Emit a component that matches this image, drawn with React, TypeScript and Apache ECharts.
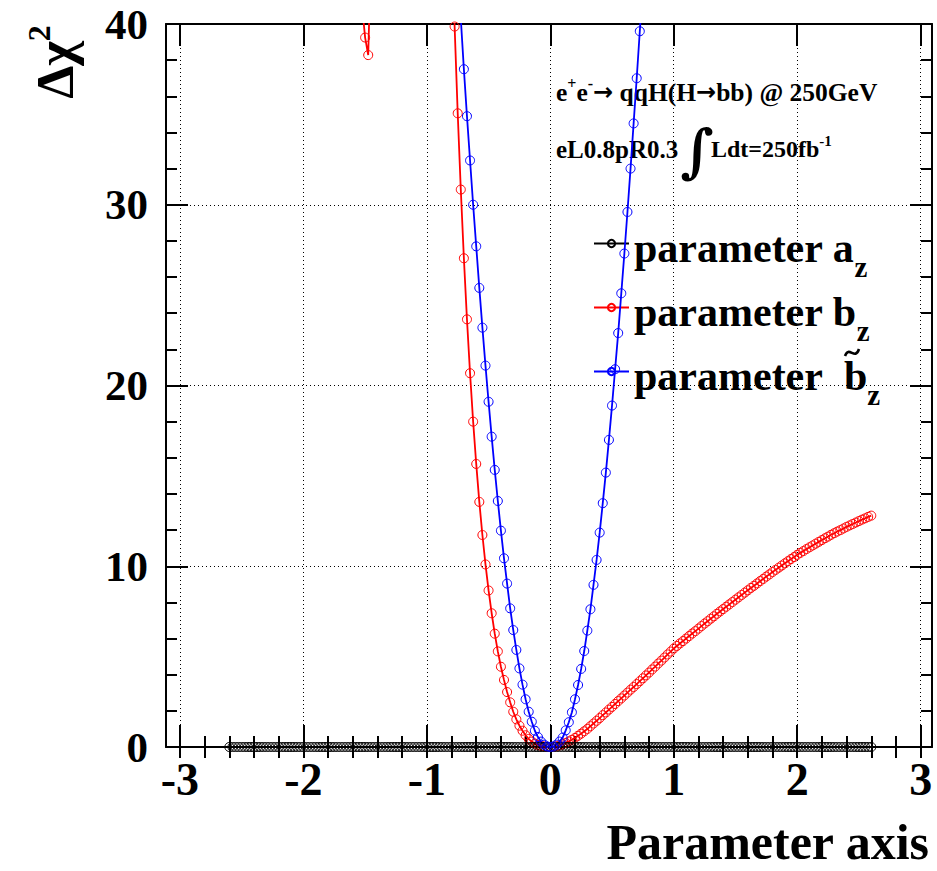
import React, { useEffect, useRef } from 'react';
import * as echarts from 'echarts';

const FONT = "'Liberation Serif', 'Times New Roman', serif";

// sampling grid of all scans
const X_STEP = 0.025;
const X_MIN = -3.113;
const X_MAX = 3.092;
const Y_MIN = 0;
const Y_MAX = 40;
const Y_INTERVAL = 10;

const X_MAJOR_TICKS = [-3, -2, -1, 0, 1, 2, 3];
const X_MINOR_TICKS = [
  -3, -2.8, -2.6, -2.4, -2.2, -2, -1.8, -1.6, -1.4, -1.2, -1, -0.8, -0.6, -0.4, -0.2,
  0, 0.2, 0.4, 0.6, 0.8, 1, 1.2, 1.4, 1.6, 1.8, 2, 2.2, 2.4, 2.6, 2.8, 3,
];

const SERIES_NAMES = ['parameter a_z', 'parameter b_z', 'parameter bt_z'];
const LEGEND_LABELS = [
  '{m|parameter a}{sub|z}',
  '{m|parameter b}{sub|z}',
  '{m|parameter\u00a0\u00a0b}{sub|z}',
];

// parameter a_z : -2.6 .. 2.6
const A_Z_START = -2.6;
const A_Z_VALUES = [
  0,0,0,0,0,0,0,0,0,0,0,0,0,0,0,0,0,0,0,
  0,0,0,0,0,0,0,0,0,0,0,0,0,0,0,0,0,0,0,
  0,0,0,0,0,0,0,0,0,0,0,0,0,0,0,0,0,0,0,
  0,0,0,0,0,0,0,0,0,0,0,0,0,0,0,0,0,0,0,
  0,0,0,0,0,0,0,0,0,0,0,0,0,0,0,0,0,0,0,
  0,0,0,0,0,0,0,0,0,0,0,0,0,0,0,0,0,0,0,
  0,0,0,0,0,0,0,0,0,0,0,0,0,0,0,0,0,0,0,
  0,0,0,0,0,0,0,0,0,0,0,0,0,0,0,0,0,0,0,
  0,0,0,0,0,0,0,0,0,0,0,0,0,0,0,0,0,0,0,
  0,0,0,0,0,0,0,0,0,0,0,0,0,0,0,0,0,0,0,
  0,0,0,0,0,0,0,0,0,0,0,0,0,0,0,0,0,0,0,
];

// parameter b_z : isolated dip near -1.5 (neighbours above the frame)
const B_Z_SIDE_START = -1.525;
const B_Z_SIDE_VALUES = [41.0, 39.25, 38.28, 44.6];

// parameter b_z : -0.8 .. 2.6
const B_Z_MAIN_START = -0.8;
const B_Z_MAIN_VALUES = [
  45,
  39.86, 35.06, 30.84, 27.04, 23.66, 20.68, 18.0, 15.66, 13.56, 11.73,
  10.1, 8.66, 7.4, 6.27, 5.29, 4.44, 3.71, 3.04, 2.47, 1.95,
  1.53, 1.18, 0.9, 0.65, 0.45, 0.3, 0.19, 0.11, 0.06, 0.03, 0.01,
  0, 0.01, 0.04, 0.09, 0.15, 0.23, 0.31, 0.4, 0.5, 0.62,
  0.74, 0.87, 1.0, 1.15, 1.3, 1.45, 1.6, 1.76, 1.91, 2.07,
  2.22, 2.38, 2.54, 2.69, 2.85, 3.01, 3.17, 3.32, 3.48, 3.64,
  3.8, 3.96, 4.12, 4.29, 4.45, 4.62, 4.78, 4.95, 5.12, 5.28,
  5.45, 5.59, 5.73, 5.86, 6.0, 6.14, 6.28, 6.41, 6.55, 6.69,
  6.83, 6.96, 7.1, 7.23, 7.37, 7.5, 7.63, 7.76, 7.89, 8.02,
  8.15, 8.28, 8.41, 8.54, 8.67, 8.8, 8.92, 9.05, 9.18, 9.3,
  9.43, 9.55, 9.68, 9.8, 9.92, 10.04, 10.16, 10.28, 10.4, 10.51,
  10.63, 10.74, 10.84, 10.95, 11.05, 11.15, 11.25, 11.35, 11.45, 11.55,
  11.64, 11.74, 11.83, 11.92, 12.0, 12.09, 12.18, 12.26, 12.34, 12.42,
  12.5, 12.58, 12.65, 12.73, 12.8,
];

// parameter b~_z : -0.725 .. 0.75
const BT_Z_START = -0.725;
const BT_Z_VALUES = [
  40.3,
  37.5, 34.9, 32.45, 30.0, 27.7, 25.4, 23.2, 21.1, 19.1, 17.17,
  15.33, 13.61, 11.97, 10.44, 9.04, 7.67, 6.47, 5.37, 4.35, 3.45,
  2.64, 1.95, 1.4, 0.9, 0.55, 0.3, 0.13, 0.03,
  0,
  0.03, 0.13, 0.3, 0.52, 0.92, 1.37, 1.92, 2.64, 3.43, 4.32,
  5.31, 6.44, 7.62, 8.97, 10.35, 11.86, 13.49, 15.18, 16.99, 18.89,
  20.9, 22.9, 25.1, 27.3, 29.6, 32.0, 34.5, 37.0, 39.6,
  42.2,
];

const COLORS = ['#000000', '#ff0000', '#0000ff'];

function toPoints(start: number, values: number[]) {
  return values.map((v, i) => [Number((start + i * X_STEP).toFixed(4)), v]);
}

export default function App() {
  const ref = useRef<HTMLDivElement>(null);

  useEffect(() => {
    if (!ref.current) return;
    const chart = echarts.init(ref.current, null, { renderer: 'svg' });

    const frameLine = { show: true, onZero: false, lineStyle: { color: '#000', width: 2 } };
    const tickLine = { color: '#000', width: 2 };
    const gridLine = { show: true, lineStyle: { color: '#000', width: 1, type: [1, 3] } };
    const labelFont = { fontFamily: FONT, fontWeight: 'bold', color: '#000' };

    const seriesData = [
      toPoints(A_Z_START, A_Z_VALUES),
      [...toPoints(B_Z_SIDE_START, B_Z_SIDE_VALUES), ...toPoints(B_Z_MAIN_START, B_Z_MAIN_VALUES)],
      toPoints(BT_Z_START, BT_Z_VALUES),
    ];

    const series = SERIES_NAMES.map((name, i) => ({
      name,
      type: 'line',
      xAxisIndex: 0,
      yAxisIndex: 0,
      data: seriesData[i],
      clip: true,
      symbol: 'circle',
      symbolSize: 9,
      showAllSymbol: true,
      z: i === 0 ? 4 : 2 + i,
      lineStyle: { color: COLORS[i], width: i === 0 ? 1 : 1.8 },
      itemStyle: { color: 'rgba(0,0,0,0)', borderColor: COLORS[i], borderWidth: 1 },
      emphasis: { disabled: true },
    }));

    const legendTops = [227, 291, 355];
    const legends = SERIES_NAMES.map((name, i) => ({
      data: [name],
      left: 593,
      top: legendTops[i],
      padding: 0,
      itemWidth: 35,
      itemHeight: 9,
      selectedMode: false,
      formatter: () => LEGEND_LABELS[i],
      textStyle: {
        fontFamily: FONT,
        fontWeight: 'bold',
        fontSize: 42,
        color: '#000',
        rich: {
          m: { fontFamily: FONT, fontWeight: 'bold', fontSize: 42, color: '#000', padding: [9, 0, 0, 0] },
          sub: { fontFamily: FONT, fontWeight: 'bold', fontSize: 29, color: '#000', padding: [46, 0, 0, 0] },
        },
      },
    }));

    const supRich = (size: number, raise: number) => ({
      fontFamily: FONT,
      fontWeight: 'bold',
      fontSize: size,
      fill: '#000',
      padding: [0, 0, raise, 0],
    });
    const arrowRich = {
      fontFamily: "'DejaVu Sans', sans-serif",
      fontWeight: 'bold',
      fontSize: 24,
      fill: '#000',
    };

    const option = {
      animation: false,
      backgroundColor: '#ffffff',
      grid: { left: 166, right: 5, top: 24, bottom: 124, containLabel: false },
      xAxis: [
        {
          type: 'value', position: 'bottom', min: X_MIN, max: X_MAX,
          axisLine: frameLine,
          axisTick: { show: true, inside: true, length: 22, customValues: X_MAJOR_TICKS, lineStyle: tickLine },
          axisLabel: { show: true, customValues: X_MAJOR_TICKS, margin: 9, fontSize: 46, ...labelFont },
          splitLine: gridLine,
        },
        {
          type: 'value', position: 'bottom', min: X_MIN, max: X_MAX,
          axisLine: { show: false },
          axisTick: { show: true, inside: true, length: 11, customValues: X_MINOR_TICKS, lineStyle: tickLine },
          axisLabel: { show: false },
          splitLine: { show: false },
        },
        {
          type: 'value', position: 'top', min: X_MIN, max: X_MAX,
          axisLine: frameLine,
          axisTick: { show: true, inside: true, length: 22, customValues: X_MAJOR_TICKS, lineStyle: tickLine },
          axisLabel: { show: false },
          splitLine: { show: false },
        },
        {
          type: 'value', position: 'top', min: X_MIN, max: X_MAX,
          axisLine: { show: false },
          axisTick: { show: true, inside: true, length: 11, customValues: X_MINOR_TICKS, lineStyle: tickLine },
          axisLabel: { show: false },
          splitLine: { show: false },
        },
      ],
      yAxis: [
        {
          type: 'value', position: 'left', min: Y_MIN, max: Y_MAX, interval: Y_INTERVAL,
          axisLine: frameLine,
          axisTick: { show: true, inside: true, length: 22, lineStyle: tickLine },
          minorTick: { show: true, splitNumber: 5, length: 11, lineStyle: tickLine },
          axisLabel: { show: true, margin: 18, fontSize: 43, showMinLabel: true, showMaxLabel: true, ...labelFont },
          splitLine: gridLine,
        },
        {
          type: 'value', position: 'right', min: Y_MIN, max: Y_MAX, interval: Y_INTERVAL,
          axisLine: frameLine,
          axisTick: { show: true, inside: true, length: 22, lineStyle: tickLine },
          minorTick: { show: true, splitNumber: 5, length: 11, lineStyle: tickLine },
          axisLabel: { show: false },
          splitLine: { show: false },
        },
      ],
      legend: legends,
      series,
      graphic: [
        {
          type: 'text', x: 55, y: 62, rotation: Math.PI / 2,
          style: {
            text: 'Δχ{sup|2}', fill: '#000', fontSize: 53, fontWeight: 'bold', fontFamily: FONT,
            align: 'center', verticalAlign: 'middle',
            rich: { sup: supRich(32, 32) },
          },
        },
        {
          type: 'text', x: 929, y: 842,
          style: {
            text: 'Parameter axis', fill: '#000', fontSize: 50, fontWeight: 'bold', fontFamily: FONT,
            align: 'right', verticalAlign: 'middle',
          },
        },
        {
          type: 'text', x: 556, y: 92,
          style: {
            text: 'e{sup|+}e{sup|-}{arr|→} qqH(H{arr|→}bb) @ 250GeV', fill: '#000', fontSize: 25.5, fontWeight: 'bold', fontFamily: FONT,
            align: 'left', verticalAlign: 'middle',
            rich: { sup: supRich(16, 17), arr: arrowRich },
          },
        },
        {
          type: 'text', x: 556, y: 149,
          style: {
            text: 'eL0.8pR0.3', fill: '#000', fontSize: 25, fontWeight: 'bold', fontFamily: FONT,
            align: 'left', verticalAlign: 'middle',
          },
        },
        {
          type: 'text', x: 697, y: 151,
          style: {
            text: '∫', fill: '#000', fontSize: 58, fontWeight: 'bold', fontFamily: "'DejaVu Serif', serif",
            align: 'center', verticalAlign: 'middle',
          },
        },
        {
          type: 'text', x: 711, y: 149,
          style: {
            text: 'Ldt=250fb{sup|-1}', fill: '#000', fontSize: 24, fontWeight: 'bold', fontFamily: FONT,
            align: 'left', verticalAlign: 'middle',
            rich: { sup: supRich(15, 16) },
          },
        },
        {
          // tilde accent over the b of the third legend entry
          type: 'bezierCurve',
          shape: { x1: 845, y1: 356, cpx1: 849, cpy1: 345, cpx2: 855, cpy2: 361, x2: 859, y2: 349 },
          style: { stroke: '#000', lineWidth: 2.6, fill: 'none' },
        },
      ],
    };

    chart.setOption(option as any);
    return () => chart.dispose();
  }, []);

  return (
    <div
      ref={ref}
      style={{ position: 'fixed', left: 0, top: 0, width: 937, height: 871, background: '#fff' }}
    />
  );
}
